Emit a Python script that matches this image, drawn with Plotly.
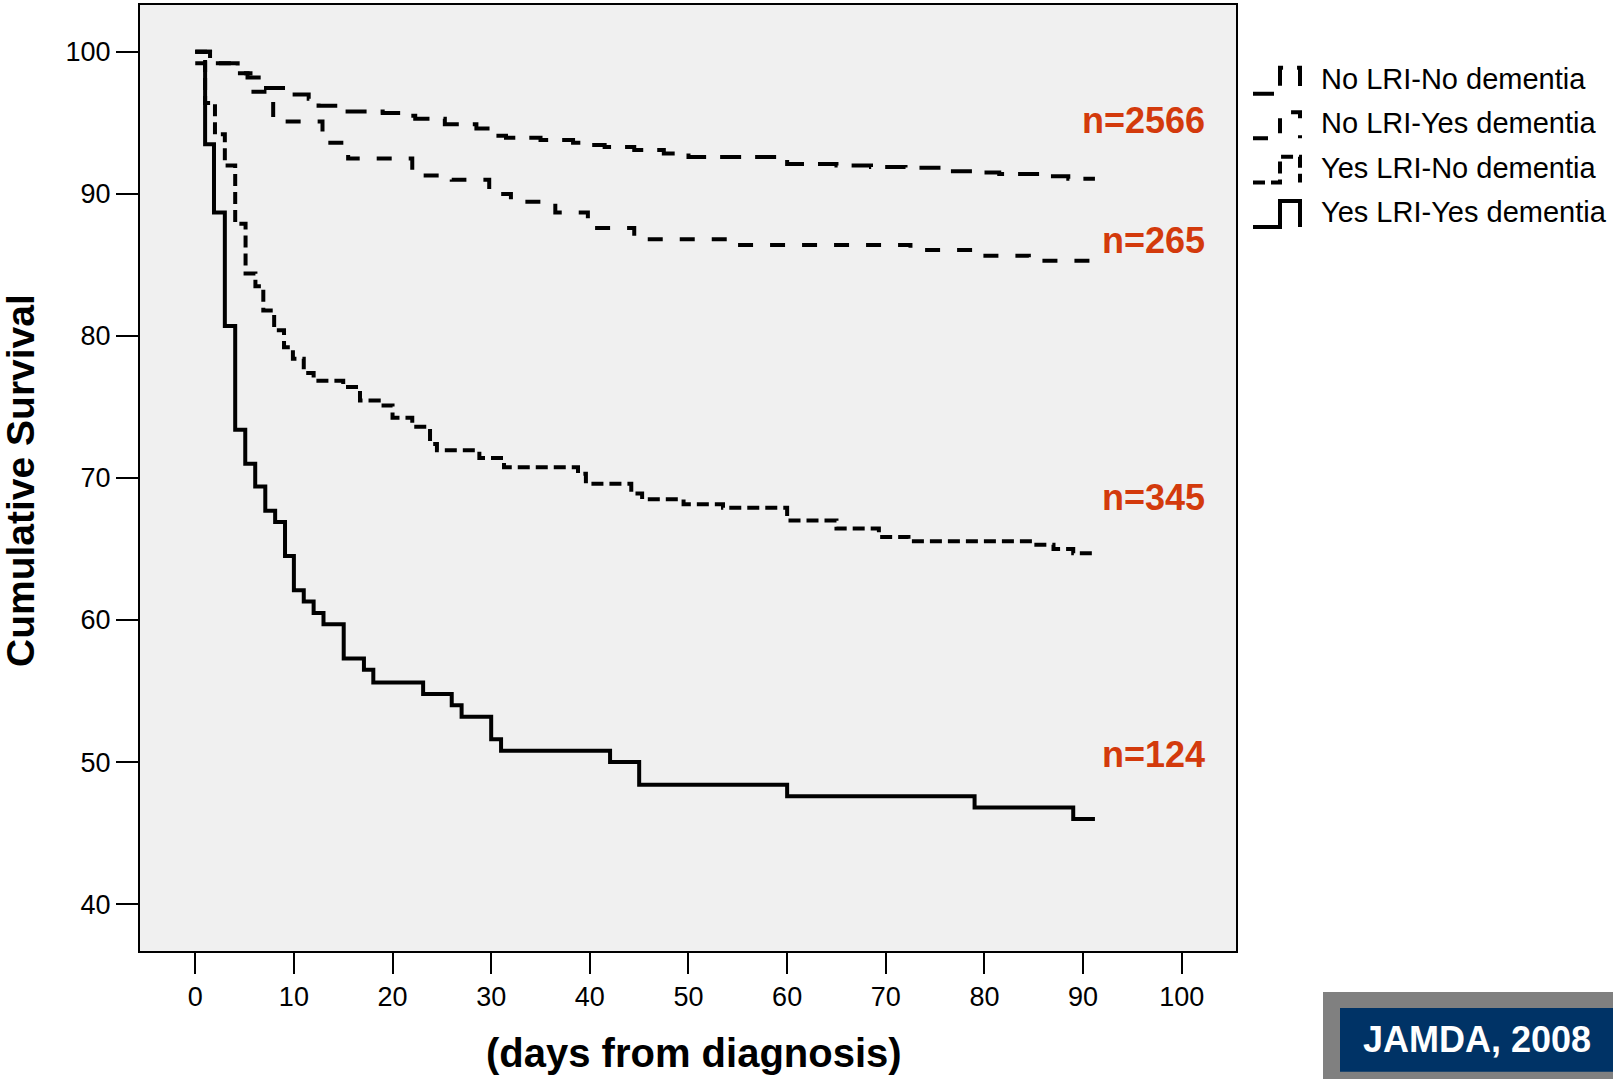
import plotly.graph_objects as go

# ---------------- data ----------------
group_names = ["No LRI-No dementia", "No LRI-Yes dementia",
               "Yes LRI-No dementia", "Yes LRI-Yes dementia"]
n_labels = ["n=2566", "n=265", "n=345", "n=124"]

days_nl_nd = [0, 1.5, 4.3, 5.3, 6.8, 9.8, 11.5, 12.5, 15.0, 19.0, 21.0, 22.3, 25.3,
              28.5, 30.0, 31.5, 35.0, 38.3, 40.0, 41.5, 44.5, 47.5, 50.0, 60.0, 65.0,
              68.5, 72.0, 76.0, 79.5, 81.5, 86.0, 88.5, 91.2]
surv_nl_nd = [100, 99.2, 98.5, 98.2, 97.45, 97.0, 96.7, 96.2, 95.8, 95.7, 95.5, 95.3, 94.9,
              94.6, 94.1, 93.95, 93.8, 93.6, 93.45, 93.3, 93.1, 92.85, 92.6, 92.1, 92.0,
              91.9, 91.85, 91.6, 91.5, 91.4, 91.25, 91.07, 91.07]

days_nl_yd = [0, 1.5, 4.3, 5.6, 7.9, 12.9, 15.5, 22.0, 26.0, 29.8, 32.0, 36.5, 39.8,
              44.5, 54.0, 72.5, 79.5, 84.5, 91.2]
surv_nl_yd = [100, 99.2, 98.5, 97.2, 95.1, 93.6, 92.5, 91.3, 91.0, 90.0, 89.45, 88.7, 87.6,
              86.8, 86.4, 86.05, 85.65, 85.3, 85.3]

days_yl_nd = [0, 1.0, 2.0, 3.0, 4.05, 5.1, 6.1, 6.9, 8.0, 9.0, 9.9, 11.0, 12.0, 15.0,
              16.7, 18.6, 20.0, 22.0, 23.8, 24.5, 28.8, 31.3, 38.8, 39.6, 44.2, 45.3,
              49.5, 53.5, 60.0, 65.0, 69.3, 72.3, 85.0, 87.0, 89.0, 91.2]
surv_yl_nd = [100, 96.4, 94.2, 92.0, 87.9, 84.4, 83.5, 81.8, 80.4, 79.2, 78.4, 77.4, 76.85, 76.4,
              75.45, 75.1, 74.25, 73.6, 72.4, 71.95, 71.4, 70.75, 70.3, 69.6, 68.9, 68.5,
              68.15, 67.9, 67.0, 66.45, 65.85, 65.55, 65.3, 65.0, 64.7, 64.7]

days_yl_yd = [0, 1.0, 1.9, 3.0, 4.05, 5.07, 6.08, 7.1, 8.1, 9.1, 10.0, 11.0, 12.0, 13.0,
              15.05, 17.1, 18.05, 23.1, 26.0, 27.0, 30.0, 31.0, 42.05, 45.0, 60.0, 79.0,
              89.0, 91.2]
surv_yl_yd = [99.2, 93.5, 88.7, 80.7, 73.4, 71.0, 69.4, 67.7, 66.9, 64.5, 62.1, 61.3, 60.5,
              59.7, 57.3, 56.5, 55.6, 54.8, 54.0, 53.2, 51.6, 50.8, 50.0, 48.4, 47.6, 46.8,
              46.0, 46.0]

x_ticks = list(range(0, 101, 10))
y_ticks = list(range(40, 101, 10))

x_title = "(days from diagnosis)"
y_title = "Cumulative Survival"
badge_text = "JAMDA, 2008"

# ---------------- layout constants ----------------
W, H = 1613, 1079
PL, PR, PT, PB = 140, 1236, 3, 951       # plot area in pixels
FONT = "Liberation Sans, Arial, sans-serif"
RED = "#D33A0C"


def fx(x):
    return (x - PL) / (PR - PL)


def fy(y):
    return (PB - y) / (PB - PT)


series = [(days_nl_nd, surv_nl_nd), (days_nl_yd, surv_nl_yd),
          (days_yl_nd, surv_yl_nd), (days_yl_yd, surv_yl_yd)]
dashes = ["21px,14px", "15px,17px", "12px,6px", "solid"]

fig = go.Figure()
for name, (t, s), d in zip(group_names, series, dashes):
    fig.add_trace(go.Scatter(
        x=t, y=s, mode="lines", name=name, showlegend=False,
        line=dict(shape="hv", color="black", width=4, dash=d),
        hoverinfo="x+y+name"))

annotations = []
shapes = []

# n labels at the right end of the curves
label_y = [95.15, 86.7, 68.6, 50.5]
for txt, yy in zip(n_labels, label_y):
    annotations.append(dict(
        x=102.6, y=yy, xref="x", yref="y", text=txt, showarrow=False,
        xanchor="right", yanchor="middle",
        font=dict(family=FONT, size=36, color=RED, weight="bold")))

# custom legend (step glyph + label)
legend_yc = [77, 121.5, 166, 210.5]
for name, d, yc in zip(group_names, dashes, legend_yc):
    top, bot = yc - 11, yc + 15
    path = (f"M {fx(1253)},{fy(bot)} L {fx(1280)},{fy(bot)} L {fx(1280)},{fy(top)} "
            f"L {fx(1300)},{fy(top)} L {fx(1300)},{fy(bot)}")
    shapes.append(dict(type="path", xref="paper", yref="paper", path=path,
                       line=dict(color="black", width=4, dash=d)))
    annotations.append(dict(
        x=fx(1319), y=fy(yc), xref="paper", yref="paper", text=name,
        showarrow=False, xanchor="left", yanchor="middle",
        font=dict(family=FONT, size=29, color="black")))

# axis titles
annotations.append(dict(
    x=fx(21), y=fy(480), xref="paper", yref="paper", text=y_title, showarrow=False,
    textangle=-90, xanchor="center", yanchor="middle",
    font=dict(family=FONT, size=39, color="black", weight="bold")))
annotations.append(dict(
    x=fx(694), y=fy(1053), xref="paper", yref="paper", text=x_title, showarrow=False,
    xanchor="center", yanchor="middle",
    font=dict(family=FONT, size=40, color="black", weight="bold")))

# journal badge
shapes.append(dict(type="rect", xref="paper", yref="paper",
                   x0=fx(1323), x1=fx(1625), y0=fy(992), y1=fy(1090),
                   fillcolor="#808080", line=dict(width=0), layer="above"))
shapes.append(dict(type="rect", xref="paper", yref="paper",
                   x0=fx(1340), x1=fx(1625), y0=fy(1008), y1=fy(1072),
                   fillcolor="#003366", line=dict(width=0), layer="above"))
annotations.append(dict(
    x=fx(1477), y=fy(1040), xref="paper", yref="paper", text=badge_text,
    showarrow=False, xanchor="center", yanchor="middle",
    font=dict(family=FONT, size=36, color="white", weight="bold")))

axis_common = dict(showgrid=False, zeroline=False, showline=True, linewidth=2,
                   linecolor="black", mirror=True, ticks="outside", tickwidth=2,
                   tickcolor="black",
                   tickfont=dict(family=FONT, size=27, color="black"))

fig.update_layout(
    width=W, height=H,
    margin=dict(l=PL, r=W - PR, t=PT, b=H - PB, pad=0),
    paper_bgcolor="white", plot_bgcolor="#F0F0F0",
    xaxis=dict(range=[-5.6, 105.5], tickmode="array", tickvals=x_ticks,
               ticklen=21, **axis_common),
    yaxis=dict(range=[36.7, 103.3], tickmode="array", tickvals=y_ticks,
               ticklen=22, **axis_common),
    annotations=annotations, shapes=shapes, showlegend=False,
    font=dict(family=FONT),
)

fig.write_html("out.html", config={"displayModeBar": False},
               post_script="document.body.style.margin='0';document.body.style.overflow='hidden';")
